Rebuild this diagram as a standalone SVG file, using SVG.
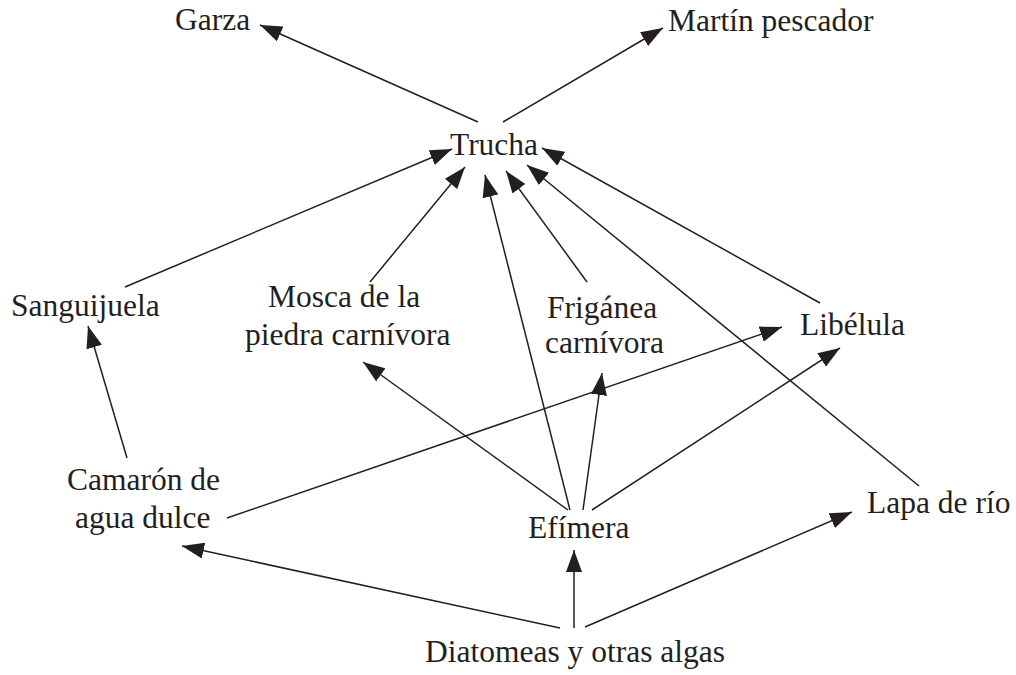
<svg xmlns="http://www.w3.org/2000/svg" width="1016" height="675" viewBox="0 0 1016 675">
<style>
text{font-family:"Liberation Serif","Times New Roman",serif;font-size:31.5px;fill:#231f20}
.c line{stroke:#231f20;stroke-width:1.5;marker-end:url(#ah)}
</style>
<defs>
<marker id="ah" viewBox="0 0 22 16" markerWidth="22" markerHeight="16" refX="22" refY="8" orient="auto" markerUnits="userSpaceOnUse">
<path d="M0,0 L22,8 L0,16 z" fill="#231f20"/>
</marker>
</defs>
<rect width="1016" height="675" fill="#fff"/>
<g class="c" id="connectors">
<line x1="478" y1="122" x2="260" y2="25"/>
<line x1="503" y1="122" x2="663" y2="28"/>
<line x1="125" y1="287" x2="452" y2="149"/>
<line x1="370" y1="282" x2="465" y2="167"/>
<line x1="570" y1="510" x2="485" y2="175"/>
<line x1="587" y1="282" x2="506" y2="171"/>
<line x1="919" y1="486" x2="527" y2="165"/>
<line x1="820" y1="303" x2="542" y2="148"/>
<line x1="127" y1="458" x2="88" y2="326"/>
<line x1="568" y1="510" x2="363" y2="362"/>
<line x1="583" y1="510" x2="602" y2="373"/>
<line x1="592" y1="510" x2="840" y2="348"/>
<line x1="227" y1="518" x2="782" y2="327"/>
<line x1="560" y1="628" x2="182" y2="546"/>
<line x1="574" y1="628" x2="574" y2="550"/>
<line x1="585" y1="627" x2="852" y2="512"/>
</g>
<g id="garza"><text x="175" y="30">Garza</text></g>
<g id="martin"><text x="668" y="31">Martín pescador</text></g>
<g id="trucha"><text x="450" y="155">Trucha</text></g>
<g id="sanguijuela"><text x="11" y="316">Sanguijuela</text></g>
<g id="mosca"><text x="268" y="307">Mosca de la</text><text x="245" y="345">piedra carnívora</text></g>
<g id="friganea"><text x="547" y="318">Frigánea</text><text x="545" y="353">carnívora</text></g>
<g id="libelula"><text x="800" y="335">Libélula</text></g>
<g id="camaron"><text x="67" y="490">Camarón de</text><text x="75" y="528">agua dulce</text></g>
<g id="efimera"><text x="528" y="538">Efímera</text></g>
<g id="lapa"><text x="867" y="513">Lapa de río</text></g>
<g id="diatomeas"><text x="425" y="662">Diatomeas y otras algas</text></g>
</svg>
